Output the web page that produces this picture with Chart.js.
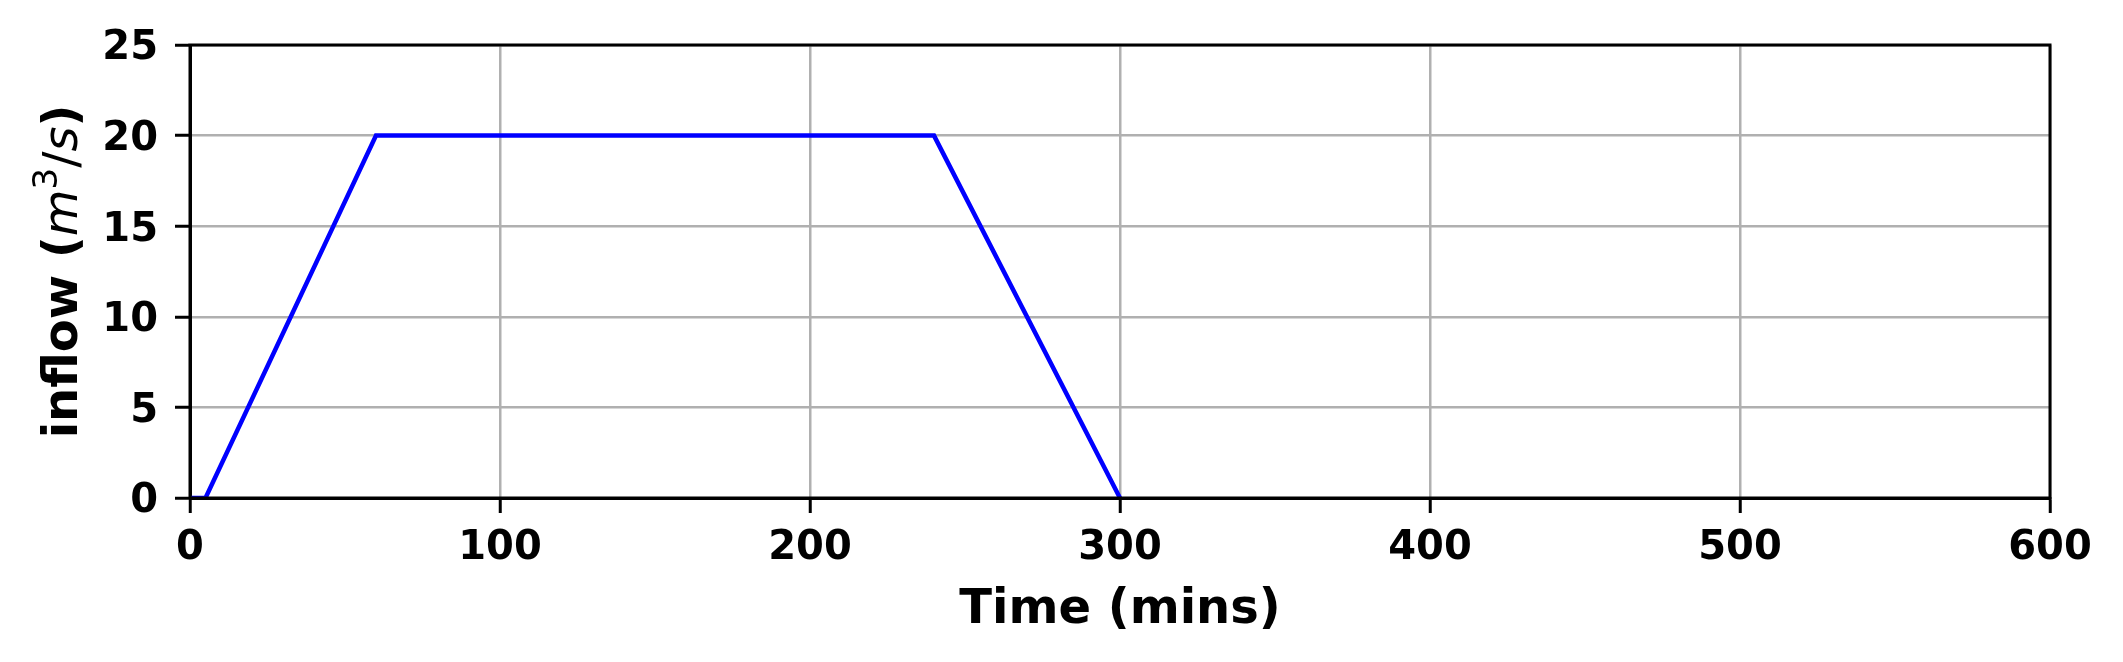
<!DOCTYPE html>
<html>
<head>
<meta charset="utf-8">
<script src="https://cdn.jsdelivr.net/npm/chart.js@4.4.1/dist/chart.umd.min.js"></script>
<style>
    html, body { margin: 0; padding: 0; background: #fff; }
    #wrap { width: 2123px; height: 662px; }
</style>
</head>
<body>
<div id="wrap"><canvas id="inflowChart" width="2123" height="662"></canvas></div>
<script>
/* ============================================
   Inflow hydrograph
   ============================================ */

const timeMins = [0, 5, 60, 240, 300];
const inflow = [0, 0, 20, 20, 0];
const xTicks = [0, 100, 200, 300, 400, 500, 600];
const yTicks = [0, 5, 10, 15, 20, 25];

const FONT = '"DejaVu Sans", sans-serif';

// black frame round the plot area (top + right spines)
const framePlugin = {
    id: 'frame',
    afterDraw(chart) {
        const { ctx, chartArea: a } = chart;
        ctx.save();
        ctx.strokeStyle = '#000';
        ctx.lineWidth = 3;
        ctx.strokeRect(a.left, a.top, a.right - a.left, a.bottom - a.top);
        ctx.restore();
    }
};

// y title with mathtext-like parts: inflow ($m^3/s$)
const yTitlePlugin = {
    id: 'yTitle',
    afterDraw(chart) {
        const { ctx, chartArea: a } = chart;
        const parts = [
            { t: 'inflow (', f: `bold 48px ${FONT}`, dy: 0 },
            { t: 'm', f: `italic 48px ${FONT}`, dy: 0 },
            { t: '3', f: `34px ${FONT}`, dy: -20 },
            { t: '/', f: `48px ${FONT}`, dy: 0 },
            { t: 's', f: `italic 48px ${FONT}`, dy: 0 },
            { t: ')', f: `bold 48px ${FONT}`, dy: 0 },
        ];
        ctx.save();
        let total = 0;
        parts.forEach(p => { ctx.font = p.f; p.w = ctx.measureText(p.t).width; total += p.w; });
        ctx.translate(77, (a.top + a.bottom) / 2);
        ctx.rotate(-Math.PI / 2);
        ctx.fillStyle = '#000';
        ctx.textBaseline = 'alphabetic';
        ctx.textAlign = 'left';
        let x = -total / 2;
        parts.forEach(p => { ctx.font = p.f; ctx.fillText(p.t, x, p.dy); x += p.w; });
        ctx.restore();
    }
};

new Chart(document.getElementById('inflowChart'), {
    type: 'line',
    data: {
        datasets: [{
            data: timeMins.map((t, i) => ({ x: t, y: inflow[i] })),
            borderColor: '#0000ff', borderWidth: 4.5, pointRadius: 0, tension: 0, fill: false
        }]
    },
    options: {
        responsive: false, animation: false, devicePixelRatio: 1,
        layout: { padding: { top: 45, right: 73, left: 0, bottom: 0 } },
        plugins: { legend: { display: false }, tooltip: { enabled: false } },
        scales: {
            x: {
                type: 'linear', min: 0, max: 600,
                afterBuildTicks: s => { s.ticks = xTicks.map(v => ({ value: v })); },
                afterFit: s => { s.height = 164; },
                ticks: { color: '#000', font: { family: FONT, size: 40, weight: 'bold' }, padding: 12, maxRotation: 0 },
                grid: { color: '#b0b0b0', lineWidth: 2.5, tickColor: '#000', tickLength: 15, tickWidth: 3 },
                border: { color: '#000', width: 3 },
                title: { display: true, text: 'Time (mins)', color: '#000', font: { family: FONT, size: 48, weight: 'bold' }, padding: { top: 0, bottom: 23 } }
            },
            y: {
                type: 'linear', min: 0, max: 25,
                afterBuildTicks: s => { s.ticks = yTicks.map(v => ({ value: v })); },
                afterFit: s => { s.width = 190; },
                ticks: { color: '#000', font: { family: FONT, size: 40, weight: 'bold' }, padding: 17, labelOffset: 4 },
                grid: { color: '#b0b0b0', lineWidth: 2.5, tickColor: '#000', tickLength: 15, tickWidth: 3 },
                border: { color: '#000', width: 3 }
            }
        }
    },
    plugins: [framePlugin, yTitlePlugin]
});
</script>
</body>
</html>
